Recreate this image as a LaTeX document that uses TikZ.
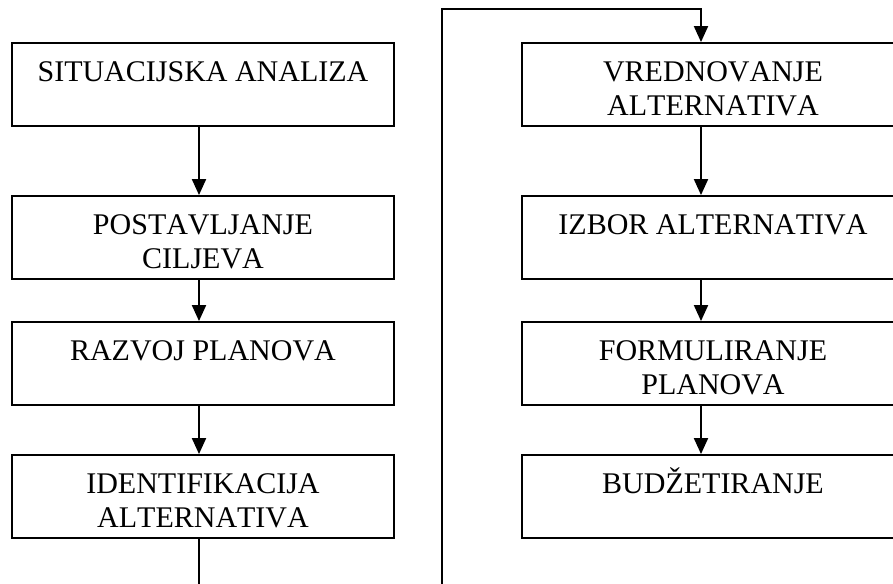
\documentclass[tikz,border=0pt]{standalone}
\usepackage{fontspec}
\setmainfont[Kerning=Off]{Liberation Serif}
\usetikzlibrary{arrows.meta}
\newcommand{\bxtext}[1]{\parbox[c][62.25pt][t]{286.5pt}{\centering\rule{0pt}{29pt}#1}}
\begin{document}
\begin{tikzpicture}[x=0.75pt,y=-0.75pt,
  box/.style={draw, line width=1.4pt, inner sep=0pt, font=\fontsize{22.5}{25.1}\selectfont},
  conn/.style={line width=1.5pt},
  arr/.style={conn, -{Triangle[length=12pt,width=10.5pt]}}]
\useasboundingbox (0,0) rectangle (893,584);
\clip (0,0) rectangle (893,584);
% left column
\node[box] (b1) at (203,84.5) {\bxtext{SITUACIJSKA ANALIZA}};
\node[box] (b2) at (203,237.5) {\bxtext{POSTAVLJANJE\\CILJEVA}};
\node[box] (b3) at (203,363.5) {\bxtext{RAZVOJ PLANOVA}};
\node[box] (b4) at (203,496.5) {\bxtext{IDENTIFIKACIJA\\ALTERNATIVA}};
% right column
\node[box] (b5) at (713,84.5) {\bxtext{VREDNOVANJE\\ALTERNATIVA}};
\node[box] (b6) at (713,237.5) {\bxtext{IZBOR ALTERNATIVA}};
\node[box] (b7) at (713,363.5) {\bxtext{FORMULIRANJE\\PLANOVA}};
\node[box] (b8) at (713,496.5) {\bxtext{BUDŽETIRANJE}};
% connector axes
\coordinate (axL) at (199,0);
\coordinate (axR) at (701,0);
\coordinate (endL) at (199,592);
\coordinate (loopB) at (442,592);
\coordinate (loopT) at (442,9);
% connectors
\draw[arr] (b1.south -| axL) -- (b2.north -| axL);
\draw[arr] (b2.south -| axL) -- (b3.north -| axL);
\draw[arr] (b3.south -| axL) -- (b4.north -| axL);
\draw[conn] (b4.south -| axL) -- (endL);
\draw[arr] (loopB) -- (loopT) -| (b5.north -| axR);
\draw[arr] (b5.south -| axR) -- (b6.north -| axR);
\draw[arr] (b6.south -| axR) -- (b7.north -| axR);
\draw[arr] (b7.south -| axR) -- (b8.north -| axR);
\end{tikzpicture}
\end{document}
